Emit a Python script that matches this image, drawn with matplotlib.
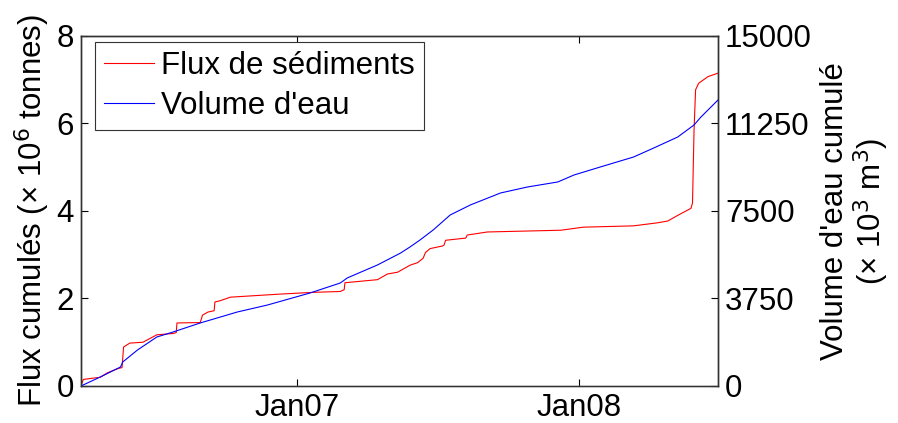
import matplotlib
matplotlib.use("Agg")
import matplotlib.pyplot as plt
import matplotlib.dates as mdates
import numpy as np
import pandas as pd

plt.rcParams['font.family'] = ['Liberation Sans', 'DejaVu Sans']

# cumulated sediment flux (10^6 tonnes)
sed_dates = ['2006-03-28', '2006-03-31', '2006-04-22', '2006-05-01', '2006-05-15', '2006-05-20',
             '2006-05-22', '2006-05-30', '2006-06-16', '2006-07-04', '2006-07-25', '2006-07-29',
             '2006-07-30', '2006-08-29', '2006-09-01', '2006-09-08', '2006-09-16', '2006-09-17',
             '2006-09-24', '2006-10-07', '2006-12-10', '2007-01-22', '2007-02-26', '2007-03-03',
             '2007-03-04', '2007-03-28', '2007-04-15', '2007-04-28', '2007-05-11', '2007-05-27',
             '2007-06-06', '2007-06-13', '2007-06-16', '2007-06-22', '2007-07-08', '2007-07-10',
             '2007-07-12', '2007-08-07', '2007-08-09', '2007-09-04', '2007-12-08', '2008-01-06',
             '2008-03-11', '2008-04-11', '2008-04-24', '2008-05-07', '2008-05-24', '2008-05-26',
             '2008-05-28', '2008-05-30', '2008-06-03', '2008-06-15', '2008-06-28']
sed_flux = [0.0, 0.15, 0.2, 0.3, 0.4, 0.42,
            0.89, 0.98, 1.0, 1.17, 1.2, 1.22,
            1.44, 1.45, 1.62, 1.69, 1.72, 1.92,
            1.95, 2.03, 2.1, 2.14, 2.16, 2.2,
            2.36, 2.4, 2.43, 2.56, 2.6, 2.76,
            2.82, 2.92, 3.05, 3.14, 3.2, 3.22,
            3.33, 3.38, 3.45, 3.52, 3.56, 3.63,
            3.66, 3.73, 3.77, 3.9, 4.06, 4.18,
            5.85, 6.77, 6.92, 7.07, 7.15]

# cumulated water volume (10^3 m^3)
vol_dates = ['2006-03-28', '2006-04-22', '2006-05-18', '2006-05-21', '2006-06-09', '2006-07-04',
             '2006-07-25', '2006-08-29', '2006-10-16', '2006-11-24', '2007-01-18', '2007-02-26',
             '2007-03-07', '2007-04-15', '2007-05-15', '2007-05-27', '2007-06-09', '2007-06-26',
             '2007-07-18', '2007-08-13', '2007-09-21', '2007-10-26', '2007-12-04', '2007-12-25',
             '2008-01-28', '2008-03-11', '2008-04-06', '2008-05-07', '2008-05-28', '2008-06-06',
             '2008-06-28']
water_vol = [0, 386, 814, 1030, 1543, 2100,
             2314, 2700, 3171, 3471, 3986, 4414,
             4630, 5186, 5700, 5957, 6257, 6686,
             7329, 7757, 8271, 8529, 8743, 9043,
             9386, 9814, 10200, 10671, 11186, 11529,
             12257]

left_ticks = [0, 2, 4, 6, 8]
right_ticks = [0, 3750, 7500, 11250, 15000]

sed_x = pd.to_datetime(sed_dates)
vol_x = pd.to_datetime(vol_dates)

fig = plt.figure(figsize=(8.98, 4.23), dpi=100)
ax = fig.add_axes([0.0902, 0.0875, 0.7094, 0.8275])
ax2 = ax.twinx()

l1, = ax.plot(sed_x, sed_flux, color='#ff0000', lw=0.8, label='Flux de sédiments')
l2, = ax2.plot(vol_x, water_vol, color='#0000ff', lw=0.8, label="Volume d'eau")

ax.set_xlim(pd.Timestamp('2006-03-28'), pd.Timestamp('2008-06-28'))
ax.set_ylim(0, 8)
ax2.set_ylim(0, 15000)
ax.set_yticks(left_ticks)
ax2.set_yticks(right_ticks)
ax.xaxis.set_major_locator(mdates.YearLocator())
ax.xaxis.set_major_formatter(mdates.DateFormatter('%b%y'))

fs = 22.5
ax.tick_params(axis='both', direction='in', labelsize=fs, length=5, top=True, width=0.8, pad=5)
ax2.tick_params(axis='y', direction='in', labelsize=fs, length=5, width=0.8, pad=5)
for a in (ax, ax2):
    for s in a.spines.values():
        s.set_linewidth(1.0)
        s.set_color('#333333')
ax.spines['bottom'].set_color('#777777')

ax.set_ylabel('Flux cumulés (× 10$^6$ tonnes)', fontsize=fs, labelpad=3)
ax2.set_ylabel("Volume d'eau cumulé\n(× 10$^3$ m$^3$)", fontsize=fs, labelpad=6,
               linespacing=1.05)

leg = ax2.legend([l1, l2], ['Flux de sédiments', "Volume d'eau"], loc='upper left',
                 bbox_to_anchor=(0.022, 0.983), borderaxespad=0, fontsize=fs,
                 handlelength=1.6, handletextpad=0.2, fancybox=False, framealpha=1,
                 borderpad=0.3, labelspacing=0.3)
leg.get_frame().set_edgecolor('#333333')
leg.get_frame().set_linewidth(0.8)

fig.savefig('out.png', dpi=100)
